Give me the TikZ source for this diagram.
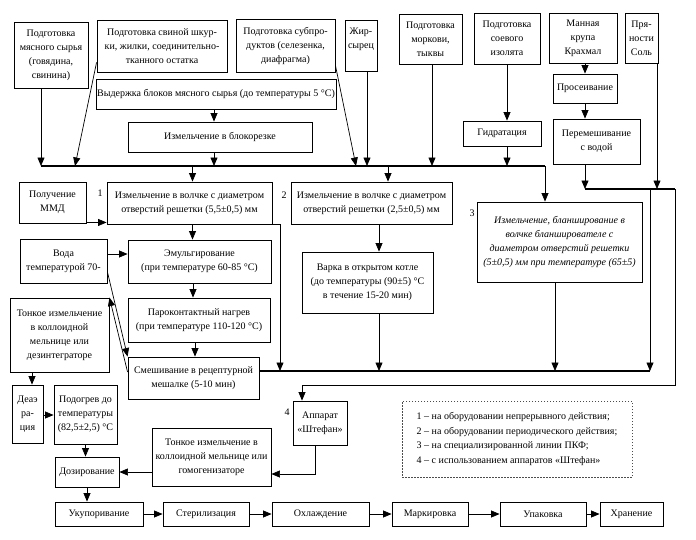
\documentclass[tikz,border=0pt]{standalone}
\usepackage{fontspec}
\setmainfont{Liberation Serif}
\usetikzlibrary{arrows.meta}
\newcommand{\Bx}[6]{\node[bx,minimum width={(#4-#2)*1pt},minimum height={(#5-#3)*1pt}] (#1) at ({(#2+#4)/2},{(#3+#5)/2}) {#6};}
\begin{document}
\begin{tikzpicture}[x=1pt,y=-1pt,
  bx/.style={draw, line width=0.9pt, align=center, inner sep=1pt, font=\fontsize{10}{14}\selectfont},
  arr/.style={line width=0.7pt, -{Triangle[length=8.5pt,width=7pt]}},
  ln/.style={line width=0.7pt},
  bus/.style={line width=1.6pt},
  num/.style={font=\fontsize{10}{12}\selectfont, inner sep=1pt},
  legend/.style={draw=black!70, dash pattern=on 1.5pt off 1.5pt, line width=0.6pt, align=left, inner sep=1pt, font=\fontsize{10}{14.5}\selectfont}]
\useasboundingbox (0,0) rectangle (696,539);
% top row
\Bx{b1}{14}{22}{88}{88}{Подготовка\\мясного сырья\\(говядина,\\свинина)}
\Bx{b2}{97}{20}{227}{72}{Подготовка свиной шкур-\\ки, жилки, соединительно-\\тканного остатка}
\Bx{b3}{236}{19}{335}{72}{Подготовка субпро-\\дуктов (селезенка,\\диафрагма)}
\Bx{b4}{345}{20}{377}{71}{Жир-\\сырец\\~}
\Bx{b5}{399}{14}{462}{64}{Подготовка\\моркови,\\тыквы}
\Bx{b6}{474}{13}{540}{64}{Подготовка\\соевого\\изолята}
\Bx{b7}{549}{13}{617}{63}{Манная\\крупа\\Крахмал}
\Bx{b8}{625}{13}{658}{63}{Пря-\\ности\\Соль}
\Bx{vyd}{96}{79}{336}{109}{Выдержка блоков мясного сырья (до температуры 5 °C)}
\Bx{blok}{128}{122}{312}{152}{Измельчение в блокорезке}
\Bx{gidr}{463}{121}{541}{146}{Гидратация}
\Bx{pros}{553}{74}{617}{103}{Просеивание}
\Bx{perem}{553}{119}{640}{164}{Перемешивание\\с водой}
% middle
\Bx{mmd}{19}{182}{86}{223}{Получение\\ММД}
\Bx{iz1}{107}{182}{272}{224}{Измельчение в волчке с диаметром\\отверстий решетки (5,5±0,5) мм}
\Bx{iz2}{291}{182}{452}{224}{Измельчение в волчке с диаметром\\отверстий решетки (2,5±0,5) мм}
\Bx{iz3}{477}{202}{642}{282}{\itshape Измельчение, бланширование в\\\itshape волчке бланширователе с\\\itshape диаметром отверстий решетки\\\itshape (5±0,5) мм при температуре (65±5)}
\Bx{voda}{20}{239}{107}{283}{Вода\\температурой 70-}
\Bx{emul}{128}{240}{271}{283}{Эмульгирование\\(при температуре 60-85 °C)}
\Bx{varka}{302}{252}{433}{313}{Варка в открытом котле\\(до температуры (90±5) °C\\в течение 15-20 мин)}
\Bx{tonk1}{10}{298}{109}{372}{Тонкое измельчение\\в коллоидной\\мельнице или\\дезинтеграторе}
\Bx{parok}{128}{298}{270}{342}{Пароконтактный нагрев\\(при температуре 110-120 °C)}
\Bx{smesh}{128}{357}{259}{399}{Смешивание в рецептурной\\мешалке (5-10 мин)}
\Bx{deaer}{12}{385}{43}{443}{Деаэ\\ра-\\ция}
\Bx{podog}{54}{385}{117}{444}{Подогрев до\\температуры\\(82,5±2,5) °C}
\Bx{dozir}{55}{457}{119}{487}{Дозирование}
\Bx{tonk2}{152}{428}{271}{486}{Тонкое измельчение в\\коллоидной мельнице или\\гомогенизаторе}
\Bx{shtef}{293}{401}{347}{445}{Аппарат\\«Штефан»}
\node[legend, minimum width=230pt, minimum height=76pt] (leg) at (517,439) {1 – на оборудовании непрерывного действия;\\2 – на оборудовании периодического действия;\\3 – на специализированной линии ПКФ;\\4 – с использованием аппаратов «Штефан»};
% bottom row
\Bx{ukup}{55}{502}{143}{526}{Укупоривание}
\Bx{steril}{163}{502}{249}{526}{Стерилизация}
\Bx{ohl}{272}{502}{369}{526}{Охлаждение}
\Bx{mark}{392}{502}{468}{526}{Маркировка}
\Bx{upak}{500}{502}{586}{526}{Упаковка}
\Bx{hran}{600}{502}{663}{526}{Хранение}
% numbers
\node[num] (n1) at (100,193) {1};
\node[num] (n2) at (284,195) {2};
\node[num] (n3) at (472,213) {3};
\node[num] (n4) at (287,412) {4};
% helper coordinates
\coordinate (y1) at (0,166);
\coordinate (y2) at (0,371);
\coordinate (y3) at (0,385);
\coordinate (y4) at (0,189);
\coordinate (bus1w) at (41,166);
\coordinate (bus1e) at (545,166);
\coordinate (t2) at (75,166);
\coordinate (t6) at (356,166);
\coordinate (y4e) at (675,189);
\coordinate (d2) at (650,189);
\coordinate (c280) at (280,0);
% bus 1 and feeds
\draw[bus] (bus1w) -- (bus1e);
\draw[arr] ([xshift=-10pt]b1.south) -- (bus1w);
\draw[arr] ([yshift=10pt]b2.south west) -- (t2);
\draw[arr] ([xshift=-2pt]vyd.south) -- ([xshift=-2pt]vyd.south |- blok.north);
\draw[arr] ([xshift=-6pt]blok.south) -- ([xshift=-6pt]blok.south |- y1);
\draw[arr] ([yshift=7pt]b3.south east) -- (t6);
\draw[arr] ([xshift=6pt]b4.south) -- ([xshift=6pt]b4.south |- y1);
\draw[arr] ([xshift=1.5pt]b5.south) -- ([xshift=1.5pt]b5.south |- y1);
\draw[arr] (b6.south) -- (b6.south |- gidr.north);
\draw[arr] (b6.south |- gidr.south) -- (b6.south |- y1);
\draw[arr] ([xshift=3pt]iz1.north |- y1) -- ([xshift=3pt]iz1.north);
\draw[arr] ([xshift=16.5pt]iz2.north |- y1) -- ([xshift=16.5pt]iz2.north);
\draw[arr] (bus1e) -- (bus1e |- iz3.north);
% right feeds
\draw[arr] ([xshift=2pt]b7.south) -- ([xshift=2pt]b7.south |- pros.north);
\draw[arr] ([xshift=2pt]b7.south |- pros.south) -- ([xshift=2pt]b7.south |- perem.north);
\draw[arr] ([xshift=2pt]b7.south |- perem.south) -- ([xshift=2pt]b7.south |- y4);
\draw[arr] ([xshift=15.5pt]b8.south) -- ([xshift=15.5pt]b8.south |- y4);
\draw[bus] ([xshift=2pt]b7.south |- y4) -- (y4e);
\draw[arr] (d2) -- (d2 |- y2);
\draw[ln] (y4e) -- (y4e |- y3) -- ([xshift=-18pt]shtef.north |- y3);
\draw[arr] ([xshift=-18pt]shtef.north |- y3) -- ([xshift=-18pt]shtef.north);
% line 1
\draw[arr] ([yshift=1pt]mmd.south east) -- ([yshift=1pt]mmd.south east -| iz1.west);
\draw[arr] ([xshift=3pt]iz1.south) -- ([xshift=3pt]iz1.south |- emul.north);
\draw[arr] (iz1.south east) -- (iz1.south east -| c280) -- (c280 |- y2);
\draw[arr] ([yshift=7pt]voda.east) -- ([yshift=7pt]voda.east -| emul.west);
\draw[arr] ([yshift=-11pt]voda.east) -- (smesh.north west);
\draw[arr] ([yshift=6pt]smesh.west) -- (tonk1.north east);
\draw[arr] ([xshift=-6.5pt]emul.south) -- ([xshift=-6.5pt]emul.south |- parok.north);
\draw[arr] ([xshift=1.5pt]smesh.north |- parok.south) -- ([xshift=1.5pt]smesh.north);
\draw[bus] ([yshift=7pt]smesh.east) -- (d2 |- y2);
% line 2, 3
\draw[arr] ([xshift=11.5pt]varka.north |- iz2.south) -- ([xshift=11.5pt]varka.north);
\draw[arr] ([xshift=11.5pt]varka.south) -- ([xshift=11.5pt]varka.south |- y2);
\draw[arr] ([xshift=-4.5pt]iz3.south) -- ([xshift=-4.5pt]iz3.south |- y2);
% lower left
\draw[arr] ([xshift=4.5pt]deaer.north |- tonk1.south) -- ([xshift=4.5pt]deaer.north);
\draw[arr] ([yshift=-1pt]deaer.east) -- ([yshift=-1pt]deaer.east -| podog.west);
\draw[arr] (podog.south) -- (podog.south |- dozir.north);
\draw[arr] (dozir.east -| tonk2.west) -- (dozir.east);
\draw[arr] ([xshift=-5pt]shtef.south) |- ([yshift=-17pt]tonk2.east);
\draw[arr] (dozir.south) -- (dozir.south |- ukup.north);
% bottom chain
\draw[arr] (ukup) -- (steril);
\draw[arr] (steril) -- (ohl);
\draw[arr] (ohl) -- (mark);
\draw[arr] (mark) -- (upak);
\draw[arr] (upak) -- (hran);
\end{tikzpicture}
\end{document}
